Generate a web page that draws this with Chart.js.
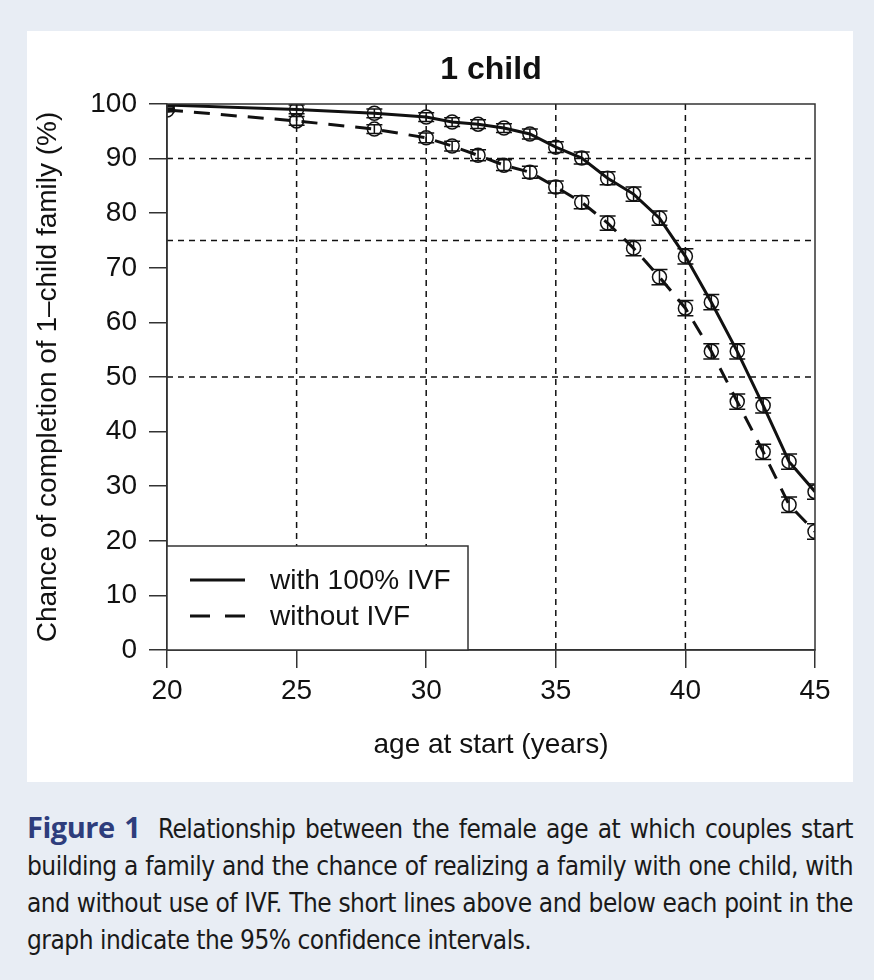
<!DOCTYPE html>
<html lang="en">
<head>
    <meta charset="UTF-8">
    <title>1 child</title>
    <script src="https://cdn.jsdelivr.net/npm/chart.js"></script>
    <style>
        body { margin: 0; background: #e8edf4; width: 874px; height: 980px; position: relative; overflow: hidden; }
        #panel { position: absolute; left: 27px; top: 31px; width: 826px; height: 751px; background: #fff; }
        #caption { position: absolute; left: 27px; top: 808px; width: 826px; font-family: "Liberation Sans Narrow", "DejaVu Sans Condensed", "Liberation Sans", sans-serif; font-size: 26px; letter-spacing: -0.5px; line-height: 37px; color: #1a1a1a; }
        #caption div { text-align: justify; text-align-last: justify; white-space: nowrap; }
        #caption div.last { text-align-last: left; }
        #caption b { color: #2e3d7c; font-family: "Open Sans", "Liberation Sans", sans-serif; font-size: 29px; letter-spacing: -0.5px; margin-right: 8px; }
    </style>
</head>
<body>
    <div id="panel"><canvas id="chart" width="826" height="751"></canvas></div>
    <div id="caption">
        <div><b>Figure 1</b> Relationship between the female age at which couples start</div>
        <div>building a family and the chance of realizing a family with one child, with</div>
        <div>and without use of IVF. The short lines above and below each point in the</div>
        <div class="last">graph indicate the 95% confidence intervals.</div>
    </div>
    <script>
        const ages = [20, 25, 28, 30, 31, 32, 33, 34, 35, 36, 37, 38, 39, 40, 41, 42, 43, 44, 45];
        const withIVF = [99.8, 99.0, 98.3, 97.6, 96.7, 96.3, 95.6, 94.5, 92.1, 90.1, 86.4, 83.5, 79.1, 72.1, 63.7, 54.7, 44.8, 34.5, 29.0];
        const withoutIVF = [98.9, 96.9, 95.4, 93.8, 92.3, 90.6, 88.8, 87.5, 84.8, 82.0, 78.2, 73.6, 68.3, 62.6, 54.7, 45.5, 36.3, 26.6, 21.7];
        // half width of the 95% CI
        const withCI = [0.3, 0.8, 0.8, 0.8, 0.8, 0.8, 0.8, 0.9, 1.0, 1.1, 1.2, 1.3, 1.3, 1.4, 1.4, 1.4, 1.4, 1.4, 1.4];
        const withoutCI = [0.3, 0.8, 0.8, 0.9, 0.9, 1.0, 1.0, 1.1, 1.1, 1.2, 1.3, 1.4, 1.4, 1.4, 1.4, 1.4, 1.4, 1.4, 1.4];
        const hLines = [90, 75, 50];
        const vLines = [25, 30, 35, 40];
        const legendLabels = ['with 100% IVF', 'without IVF'];

        const ink = '#111';
        const font = '"Liberation Sans", Arial, sans-serif';
        const fs = 28;

        const refLines = {
            id: 'refLines',
            beforeDatasetsDraw(chart) {
                const { ctx, chartArea: a, scales: { x, y } } = chart;
                ctx.save();
                ctx.strokeStyle = ink;
                ctx.lineWidth = 1.5;
                ctx.setLineDash([6, 5]);
                hLines.forEach(v => {
                    const py = y.getPixelForValue(v);
                    ctx.beginPath(); ctx.moveTo(a.left, py); ctx.lineTo(a.right, py); ctx.stroke();
                });
                vLines.forEach(v => {
                    const px = x.getPixelForValue(v);
                    ctx.beginPath(); ctx.moveTo(px, a.top); ctx.lineTo(px, a.bottom); ctx.stroke();
                });
                ctx.restore();
            }
        };

        const errorBars = {
            id: 'errorBars',
            afterDatasetsDraw(chart) {
                const { ctx, chartArea: a, scales: { x, y } } = chart;
                ctx.save();
                ctx.beginPath(); ctx.rect(a.left, a.top, a.right - a.left, a.bottom - a.top); ctx.clip();
                ctx.strokeStyle = ink;
                ctx.lineWidth = 1.5;
                [[withIVF, withCI], [withoutIVF, withoutCI]].forEach(([vals, ci]) => {
                    vals.forEach((v, i) => {
                        const px = x.getPixelForValue(ages[i]);
                        const hi = y.getPixelForValue(v + ci[i]);
                        const lo = y.getPixelForValue(v - ci[i]);
                        ctx.beginPath();
                        ctx.moveTo(px, hi); ctx.lineTo(px, lo);
                        ctx.moveTo(px - 8, hi); ctx.lineTo(px + 8, hi);
                        ctx.moveTo(px - 8, lo); ctx.lineTo(px + 8, lo);
                        ctx.stroke();
                    });
                });
                ctx.restore();
            }
        };

        const boxAndLegend = {
            id: 'boxAndLegend',
            afterDraw(chart) {
                const { ctx, chartArea: a } = chart;
                ctx.save();
                ctx.strokeStyle = '#333';
                ctx.lineWidth = 1.5;
                ctx.strokeRect(a.left, a.top, a.right - a.left, a.bottom - a.top);
                // legend box in the lower left corner
                const lx = a.left, ly = a.bottom - 104, lw = 301, lh = 104;
                ctx.fillStyle = '#fff';
                ctx.fillRect(lx, ly, lw, lh);
                ctx.strokeRect(lx, ly, lw, lh);
                ctx.strokeStyle = ink;
                ctx.lineWidth = 3;
                ctx.beginPath(); ctx.moveTo(lx + 23, ly + 34); ctx.lineTo(lx + 78, ly + 34); ctx.stroke();
                ctx.setLineDash([20, 15]);
                ctx.beginPath(); ctx.moveTo(lx + 23, ly + 70); ctx.lineTo(lx + 78, ly + 70); ctx.stroke();
                ctx.setLineDash([]);
                ctx.fillStyle = ink;
                ctx.font = fs + 'px ' + font;
                ctx.textBaseline = 'middle';
                ctx.fillText(legendLabels[0], lx + 103, ly + 35);
                ctx.fillText(legendLabels[1], lx + 103, ly + 71);
                ctx.restore();
            }
        };

        const ds = (label, vals, dash) => ({
            label,
            data: ages.map((a, i) => ({ x: a, y: vals[i] })),
            showLine: true,
            borderColor: ink,
            borderWidth: 3,
            borderDash: dash,
            pointStyle: 'circle',
            pointRadius: 7,
            pointBorderWidth: 1.5,
            pointBorderColor: ink,
            pointBackgroundColor: 'rgba(0,0,0,0)',
            tension: 0
        });

        new Chart(document.getElementById('chart'), {
            type: 'scatter',
            data: {
                datasets: [ds(legendLabels[0], withIVF, []), ds(legendLabels[1], withoutIVF, [16, 11])]
            },
            options: {
                responsive: false,
                animation: false,
                layout: { padding: { left: 0, right: 38, top: 0, bottom: 0 } },
                plugins: {
                    legend: { display: false },
                    tooltip: { enabled: false },
                    title: {
                        display: true,
                        text: '1 child',
                        fullSize: false,
                        color: ink,
                        font: { family: font, size: 32, weight: 'bold', lineHeight: 1.2 },
                        padding: { top: 20, bottom: 14.6 }
                    }
                },
                scales: {
                    x: {
                        type: 'linear',
                        min: 20, max: 45,
                        afterFit: s => { s.height = 132; },
                        ticks: { stepSize: 5, color: ink, padding: 6, font: { family: font, size: fs } },
                        grid: { display: true, drawOnChartArea: false, drawTicks: true, tickLength: 18, color: '#333', lineWidth: 1.5 },
                        border: { display: true, color: '#333', width: 1.5 },
                        title: { display: true, text: 'age at start (years)', color: ink, font: { family: font, size: fs }, padding: { top: 0, bottom: 20 } }
                    },
                    y: {
                        min: 0, max: 100,
                        afterFit: s => { s.width = 140; },
                        ticks: { stepSize: 10, color: ink, padding: 12, font: { family: font, size: fs } },
                        grid: { display: true, drawOnChartArea: false, drawTicks: true, tickLength: 18, color: '#333', lineWidth: 1.5 },
                        border: { display: true, color: '#333', width: 1.5 },
                        title: { display: true, text: 'Chance of completion of 1\u2013child family (%)', color: ink, font: { family: font, size: fs }, padding: { top: 4, bottom: 0 } }
                    }
                }
            },
            plugins: [refLines, errorBars, boxAndLegend]
        });
    </script>
</body>
</html>
